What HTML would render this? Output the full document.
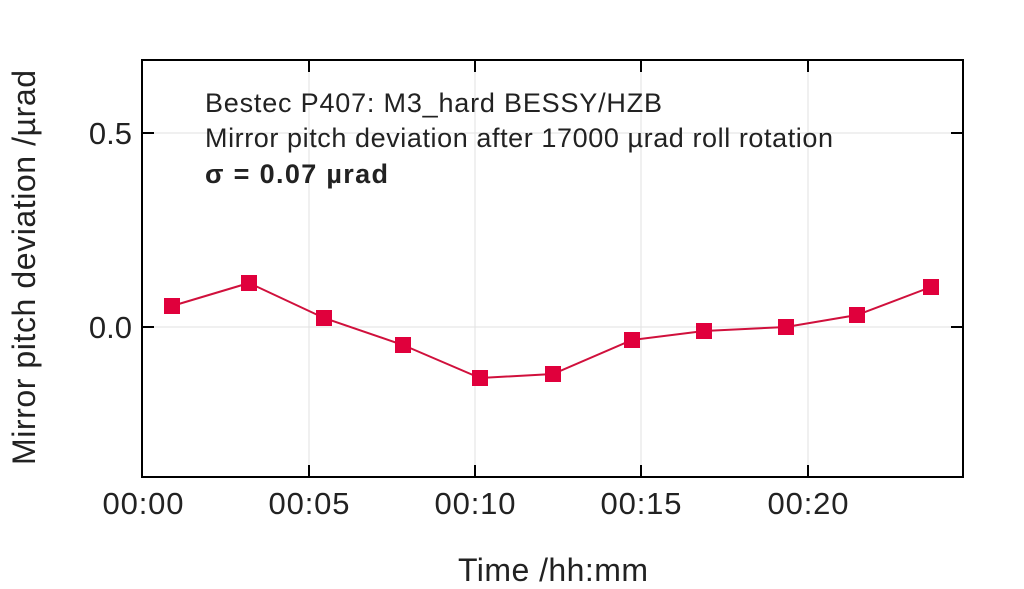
<!DOCTYPE html>
<html><head><meta charset="utf-8"><style>body{margin:0;background:#fff}svg{display:block}</style></head><body>
<svg width="1024" height="589" xmlns="http://www.w3.org/2000/svg" font-family="'Liberation Sans', sans-serif">
<rect width="1024" height="589" fill="#fff"/>
<g stroke="#e2e2e2" stroke-width="1">
<line x1="309" y1="60" x2="309" y2="477"/><line x1="475" y1="60" x2="475" y2="477"/><line x1="641" y1="60" x2="641" y2="477"/><line x1="808" y1="60" x2="808" y2="477"/>
<line x1="142" y1="133" x2="963" y2="133"/><line x1="142" y1="327" x2="963" y2="327"/>
</g>
<rect x="142" y="60" width="821" height="417" fill="none" stroke="#000" stroke-width="2"/>
<g stroke="#000" stroke-width="2">
<line x1="142" y1="133" x2="154" y2="133"/><line x1="963" y1="133" x2="951" y2="133"/>
<line x1="142" y1="327" x2="154" y2="327"/><line x1="963" y1="327" x2="951" y2="327"/>
<line x1="309" y1="477" x2="309" y2="465"/><line x1="475" y1="477" x2="475" y2="465"/><line x1="641" y1="477" x2="641" y2="465"/><line x1="808" y1="477" x2="808" y2="465"/>
<line x1="309" y1="60" x2="309" y2="72"/><line x1="475" y1="60" x2="475" y2="72"/><line x1="641" y1="60" x2="641" y2="72"/><line x1="808" y1="60" x2="808" y2="72"/>
</g>
<g font-size="31" fill="#222">
<text x="132" y="144" text-anchor="end">0.5</text>
<text x="132" y="338" text-anchor="end">0.0</text>
<text x="143" y="514" text-anchor="middle" textLength="81">00:00</text>
<text x="309" y="514" text-anchor="middle" textLength="81">00:05</text>
<text x="475" y="514" text-anchor="middle" textLength="81">00:10</text>
<text x="641" y="514" text-anchor="middle" textLength="81">00:15</text>
<text x="808" y="514" text-anchor="middle" textLength="81">00:20</text>
<text x="458" y="581" font-size="32" textLength="190">Time /hh:mm</text>
<text transform="translate(35,465) rotate(-90)" font-size="32" textLength="395">Mirror pitch deviation /µrad</text>
</g>
<g font-size="27" fill="#222">
<text x="205" y="112" textLength="457">Bestec P407: M3_hard BESSY/HZB</text>
<text x="205" y="147" textLength="628">Mirror pitch deviation after 17000 µrad roll rotation</text>
<text x="205" y="183" font-weight="bold" textLength="183">σ = 0.07 µrad</text>
</g>
<polyline fill="none" stroke="#d0103c" stroke-width="2" points="172,306 249,283 324,318 403,345 480,378 553,374 632,340 704,331 786,327 857,315 931,287"/>
<g fill="#e0003c">
<rect x="164" y="298" width="16" height="16"/><rect x="241" y="275" width="16" height="16"/><rect x="316" y="310" width="16" height="16"/><rect x="395" y="337" width="16" height="16"/><rect x="472" y="370" width="16" height="16"/><rect x="545" y="366" width="16" height="16"/><rect x="624" y="332" width="16" height="16"/><rect x="696" y="323" width="16" height="16"/><rect x="778" y="319" width="16" height="16"/><rect x="849" y="307" width="16" height="16"/><rect x="923" y="279" width="16" height="16"/>
</g>
</svg>
</body></html>
